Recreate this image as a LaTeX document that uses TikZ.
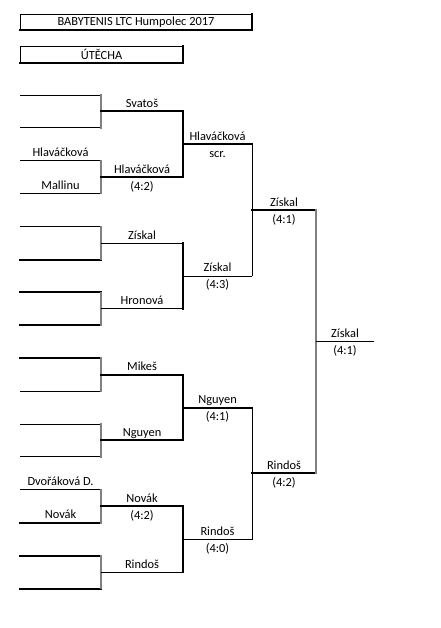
\documentclass[tikz,border=0pt]{standalone}
\usepackage{fontspec}
\setmainfont{Carlito}
\definecolor{bordergray}{RGB}{128,128,128}
\begin{document}
\begin{tikzpicture}[x=1pt, y=-1pt, line cap=rect,
    thinln/.style={line width=0.9pt},
    thickln/.style={line width=2pt},
    grayln/.style={line width=1.6pt, bordergray},
    player/.style={anchor=base, inner sep=0pt, font=\fontsize{12.4}{14}\selectfont},
    headbox/.style={draw, line width=0.9pt, inner sep=0pt, font=\fontsize{12.4}{14}\selectfont}]
    \useasboundingbox (0,0) rectangle (440,628);
    % Header
    \node[headbox, minimum width=232, minimum height=16] (title) at (136,22) {BABYTENIS LTC Humpolec 2017};
    \draw[thickln] (title.south west) -- (title.south east) -- (title.north east);
    \node[headbox, minimum width=163, minimum height=17] (cons) at (101.5,54.5) {ÚTĚCHA};
    \draw[thickln] (cons.south west) -- (cons.south east) -- (cons.north east);
    % Round 1
    \foreach \i/\w in {1/thinln,2/thinln,3/thinln,4/thinln,5/thinln,6/thickln,7/thickln,8/thickln,
                       9/thickln,10/thinln,11/thinln,12/thinln,13/thinln,14/thickln,15/thickln,16/thickln} {
        \coordinate (a\i) at (20,{95+32.9*(\i-1)});
        \coordinate (b\i) at (101,{95+32.9*(\i-1)});
        \draw[\w] (a\i) -- (b\i);
    }
    \foreach \i in {1,3,...,15} {
        \pgfmathtruncatemacro\j{\i+1}
        \draw[grayln] (b\i) -- (b\j);
    }
    % Round 2
    \foreach \i/\w in {1/thickln,2/thickln,3/thinln,4/thinln,5/thickln,6/thickln,7/thickln,8/thinln} {
        \coordinate (c\i) at (101,{111.45+65.8*(\i-1)});
        \coordinate (d\i) at (183,{111.45+65.8*(\i-1)});
        \draw[\w] (c\i) -- (d\i);
    }
    \foreach \i in {1,3,5,7} {
        \pgfmathtruncatemacro\j{\i+1}
        \draw[thickln] (d\i) -- (d\j);
    }
    % Round 3
    \foreach \i/\w in {1/thickln,2/thinln,3/thickln,4/thinln} {
        \coordinate (e\i) at (183,{144.35+131.6*(\i-1)});
        \coordinate (f\i) at (252,{144.35+131.6*(\i-1)});
        \draw[\w] (e\i) -- (f\i);
    }
    \draw[thinln] (f1) -- (f2);
    \draw[thinln] (f3) -- (f4);
    % Round 4
    \foreach \i in {1,2} {
        \coordinate (g\i) at (252,{210.15+263.2*(\i-1)});
        \coordinate (h\i) at (316,{210.15+263.2*(\i-1)});
        \draw[thickln] (g\i) -- (h\i);
    }
    \draw[grayln] (h1) -- (h2);
    % Final
    \coordinate (k) at (316,341.75);
    \coordinate (m) at (374,341.75);
    \draw[thinln] (k) -- (m);
    % Names and scores
    \node[player] (p3) at (60.5,156.8) {Hlaváčková};
    \node[player] (p4) at (60.5,189.7) {Mallinu};
    \node[player] (p13) at (60.5,485.8) {Dvořáková D.};
    \node[player] (p14) at (60.5,518.7) {Novák};
    \node[player] (q1) at (142,107.45) {Svatoš};
    \node[player] (q2) at (142,173.25) {Hlaváčková};
    \node[player] (q2s) at (142,190.25) {(4:2)};
    \node[player] (q3) at (142,239.05) {Získal};
    \node[player] (q4) at (142,304.85) {Hronová};
    \node[player] (q5) at (142,370.65) {Mikeš};
    \node[player] (q6) at (142,436.45) {Nguyen};
    \node[player] (q7) at (142,502.25) {Novák};
    \node[player] (q7s) at (142,519.25) {(4:2)};
    \node[player] (q8) at (142,568.05) {Rindoš};
    \node[player] (s1) at (217.5,140.35) {Hlaváčková};
    \node[player] (s1s) at (217.5,157.35) {scr.};
    \node[player] (s2) at (217.5,271.95) {Získal};
    \node[player] (s2s) at (217.5,288.95) {(4:3)};
    \node[player] (s3) at (217.5,403.55) {Nguyen};
    \node[player] (s3s) at (217.5,420.55) {(4:1)};
    \node[player] (s4) at (217.5,535.15) {Rindoš};
    \node[player] (s4s) at (217.5,552.15) {(4:0)};
    \node[player] (t1) at (284,206.15) {Získal};
    \node[player] (t1s) at (284,223.15) {(4:1)};
    \node[player] (t2) at (284,469.35) {Rindoš};
    \node[player] (t2s) at (284,486.35) {(4:2)};
    \node[player] (w) at (345,337.75) {Získal};
    \node[player] (ws) at (345,354.75) {(4:1)};
\end{tikzpicture}
\end{document}
